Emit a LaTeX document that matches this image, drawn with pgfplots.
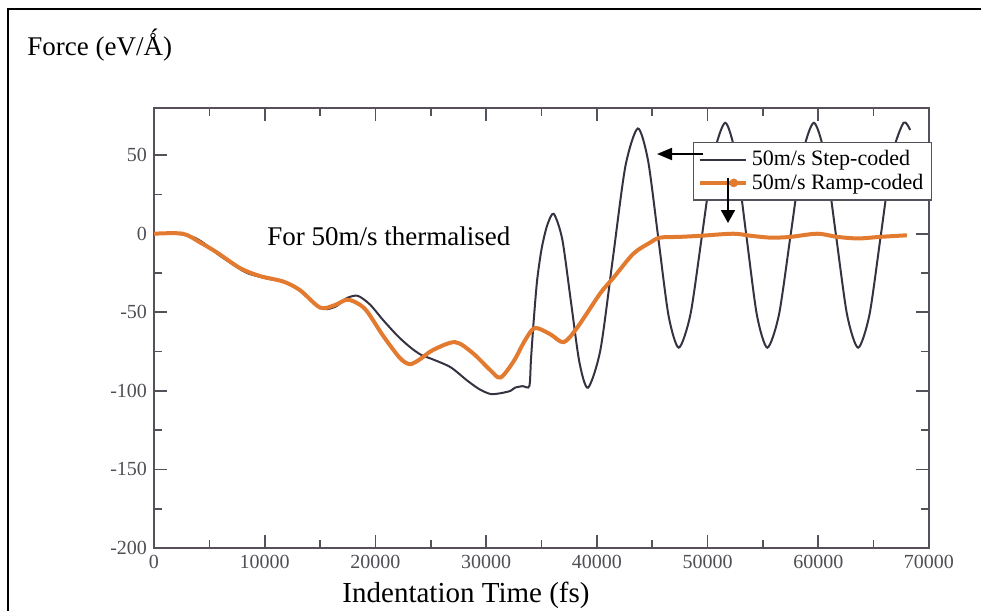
\documentclass[border=0pt]{standalone}
\usepackage{fontspec}
\setmainfont{Liberation Serif}
\usepackage{pgfplots}
\pgfplotsset{compat=1.18}
\usetikzlibrary{arrows.meta}
\definecolor{stepc}{RGB}{55,50,65}
\definecolor{rampc}{RGB}{226,122,48}
\definecolor{axc}{RGB}{85,80,90}
\definecolor{tickc}{RGB}{80,78,85}
\begin{document}
\begin{tikzpicture}[x=1pt,y=1pt]
\path[use as bounding box] (0,0) rectangle (490.5,-305.5);
\draw[line width=1.2pt] (4,-305.5) -- (4,-4.5) -- (490.5,-4.5);
\node[anchor=base west, font=\fontsize{13.5}{16}\selectfont, inner sep=0] at (13.5,-27.5) {Force (eV/Ǻ)};
\begin{axis}[
  at={(77pt,-274pt)}, anchor=south west,
  scale only axis, width=387.5pt, height=220pt,
  xmin=0, xmax=70000, ymin=-200, ymax=80,
  xtick={0,10000,...,70000}, ytick={-200,-150,...,50},
  minor x tick num=1, minor y tick num=1,
  scaled x ticks=false,
  /pgf/number format/1000 sep={},
  /pgf/number format/assume math mode=true,
  tick label style={font=\fontsize{10}{12}\selectfont, text=tickc},
  axis line style={axc, line width=0.8pt},
  every tick/.style={axc, line width=0.8pt},
  major tick length=6.5pt, minor tick length=4pt,
  tick align=inside,
  legend style={at={(rel axis cs:1.004,0.923)}, anchor=north east,
    draw=axc, line width=0.6pt, font=\fontsize{11}{12}\selectfont,
    inner xsep=2pt, inner ysep=2pt, row sep=-1.5pt, cells={anchor=west}},
]
\addplot[stepc, line width=1pt, smooth, tension=0.45,
  legend image code/.code={\draw[stepc, line width=0.8pt] (3pt,0pt) -- (19pt,0pt); \path (0pt,0pt) -- (23pt,0pt);}]
coordinates {
(0,0) (2000,0) (3500,-2) (4500,-6) (5700,-12.7) (7000,-19) (8400,-25)
(10200,-28.5) (11700,-30.5) (12800,-34) (13800,-40) (14800,-46) (15600,-48)
(16500,-46) (17400,-41) (18400,-39.5) (19500,-45) (20700,-55) (22000,-65)
(23100,-72) (24100,-77) (25200,-80) (26800,-85) (28300,-93.5) (29400,-99)
(30400,-102) (31300,-101.5) (32200,-100) (32600,-98) (33300,-97) (33900,-97)
(34050,-80) (34300,-55) (34600,-30) (35000,-10) (35500,5) (36100,12.7)
(36875,-3.5) (37650,-42.7) (38425,-81.8) (39200,-98)
(40325,-73.8) (41450,-15.5) (42575,42.8) (43700,67)
(44625,46.6) (45550,-2.75) (46475,-52.1) (47400,-72.5)
(48450,-51.5) (49500,-0.95) (50550,49.6) (51600,70.6)
(52550,49.6) (53500,-0.95) (54450,-51.5) (55400,-72.5)
(56450,-51.5) (57500,-0.95) (58550,49.6) (59600,70.6)
(60600,49.6) (61600,-0.95) (62600,-51.5) (63600,-72.5)
(64625,-51.5) (65650,-0.95) (66675,49.6) (67700,70.6) (68300,66)
};
\addlegendentry{50m/s Step-coded}
\addplot[rampc, line width=2pt, smooth, tension=0.5,
  legend image code/.code={\draw[rampc, line width=2pt, line cap=butt] (2pt,0pt) -- (11pt,0pt); \fill[rampc] (17pt,0pt) circle (1.1pt); \path (0pt,0pt) -- (23pt,0pt);}]
coordinates {
(0,0) (2600,0) (4200,-5.7) (5700,-12) (7800,-22) (9600,-27) (11700,-30.5)
(13200,-36) (15000,-47) (16300,-45.5) (17400,-42) (18300,-44) (19200,-49)
(20700,-65) (22200,-79) (23100,-83) (24000,-80) (25200,-74) (27200,-69)
(28800,-76) (30400,-87) (31300,-91.5) (32500,-81) (33500,-68) (34400,-60)
(35800,-64) (37000,-69) (38200,-60) (40300,-38) (41500,-28) (43300,-12.7)
(44800,-5.7) (45700,-2.5) (47500,-2) (49400,-1.3) (52300,0) (53900,-1.3)
(55700,-2.5) (57500,-2) (59900,0) (61700,-2) (63600,-3) (65600,-2) (68000,-1)
};
\addlegendentry{50m/s Ramp-coded}
\end{axis}
\node[anchor=base west, font=\fontsize{13.5}{16}\selectfont, inner sep=0] at (133.5,-122.5) {For 50m/s thermalised};
\node[anchor=base, font=\fontsize{14.5}{17}\selectfont, inner sep=0] at (233,-301) {Indentation Time (fs)};
\draw[line width=0.9pt, -{Triangle[length=7.5pt,width=6pt]}] (351.5,-77) -- (328.5,-77);
\draw[line width=0.9pt, -{Triangle[length=6.5pt,width=7pt]}] (364,-89) -- (364,-111.5);
\end{tikzpicture}
\end{document}
